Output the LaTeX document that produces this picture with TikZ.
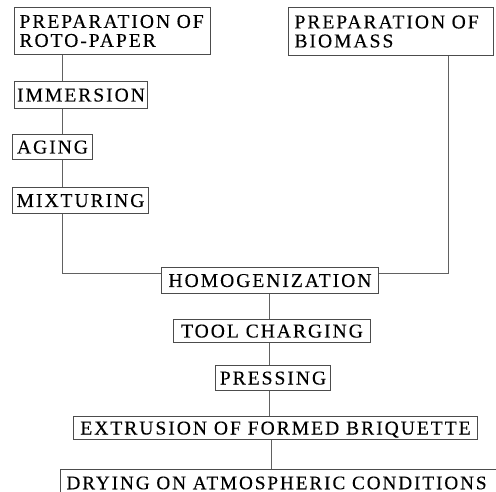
\documentclass[tikz,border=0pt]{standalone}
\usepackage{fontspec}
\setmainfont{Liberation Serif}[LetterSpace=10,FakeBold=0.2]
\definecolor{boxc}{gray}{0.3}
\definecolor{linec}{gray}{0.38}
\begin{document}
\begin{tikzpicture}[x=1pt,y=-1pt,
  box/.style={draw=boxc, line width=1pt, inner sep=0pt, anchor=north west,
    text height=13pt, text depth=0pt, font=\fontsize{19.6}{19}\selectfont},
  twobox/.style={draw=boxc, line width=1pt, inner ysep=0pt, inner xsep=5pt,
    anchor=north west, align=left, font=\fontsize{19.6}{19}\selectfont},
  link/.style={draw=linec, line width=1pt}]
\useasboundingbox (0,0) rectangle (496,492);
\clip (0,0) rectangle (496,492);

\node[twobox, minimum height=47pt, text width=186pt] (roto) at (14,7) {PREPARATION OF\\ROTO-PAPER};
\node[twobox, minimum height=48pt, text width=193pt, inner xsep=6pt] (bio) at (288,7) {PREPARATION OF\\BIOMASS};
\node[box, minimum width=133pt, minimum height=27pt] (imm) at (14,81) {IMMERSION};
\node[box, minimum width=80pt, minimum height=25pt] (aging) at (12,134) {AGING};
\node[box, minimum width=136pt, minimum height=26pt] (mix) at (12,187) {MIXTURING};
\node[box, minimum width=217pt, minimum height=26pt] (homog) at (161,267) {HOMOGENIZATION};
\node[box, minimum width=197pt, minimum height=23pt] (tool) at (173,319) {TOOL CHARGING};
\node[box, minimum width=115pt, minimum height=25pt] (press) at (215,365) {PRESSING};
\node[box, minimum width=404pt, minimum height=23pt] (extr) at (73,416) {EXTRUSION OF FORMED BRIQUETTE};
\node[box, draw=none, minimum height=27pt, inner xsep=6pt, text height=12.5pt, font=\fontsize{19.2}{19}\selectfont] (dry) at (60,469) {DRYING ON ATMOSPHERIC CONDITIONS};
\draw[draw=boxc, line width=1pt] (dry.north west) rectangle ++(460,30);

\coordinate (lx) at (62,0);
\coordinate (rx) at (448,0);
\coordinate (cx) at (269,0);
\coordinate (dx) at (271,0);
\coordinate (jy) at (0,274);

\draw[link] (roto.south -| lx) -- (imm.north -| lx);
\draw[link] (imm.south -| lx) -- (aging.north -| lx);
\draw[link] (aging.south -| lx) -- (mix.north -| lx);
\draw[link] (mix.south -| lx) -- (lx |- jy) -- (homog.west |- jy);
\draw[link] (bio.south -| rx) -- (rx |- jy) -- (homog.east |- jy);
\draw[link] (homog.south -| cx) -- (tool.north -| cx);
\draw[link] (tool.south -| cx) -- (press.north -| cx);
\draw[link] (press.south -| cx) -- (extr.north -| cx);
\draw[link] (extr.south -| dx) -- (dry.north -| dx);
\end{tikzpicture}
\end{document}
